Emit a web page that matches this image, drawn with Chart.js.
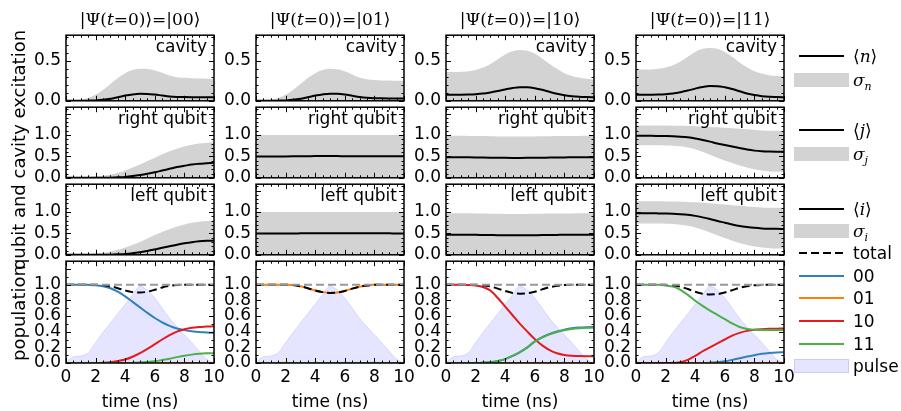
<!DOCTYPE html>
<html>
<head>
<meta charset="utf-8">
<script src="https://cdn.jsdelivr.net/npm/chart.js@4.4.0/dist/chart.umd.min.js"></script>
<style>
body { margin: 0; background: #fff; width: 901px; height: 411px; overflow: hidden; position: relative; font-family: 'DejaVu Sans', sans-serif; }
canvas { position: absolute; }
.txt { position: absolute; white-space: nowrap; font-size: 17px; line-height: 20px; color: #000; }
.math { font-family: 'DejaVu Serif', serif; }
.ylab { position: absolute; white-space: nowrap; font-size: 17px; line-height: 20px; text-align: center; transform: rotate(-90deg); }
.sw { position: absolute; }
</style>
</head>
<body>
<script>
// time axis (ns)
const time = [0, 0.5, 1, 1.5, 2, 2.5, 3, 3.5, 4, 4.5, 5, 5.5, 6, 6.5, 7, 7.5, 8, 8.5, 9, 9.5, 10];
const zeros = [0, 0, 0, 0, 0, 0, 0, 0, 0, 0, 0, 0, 0, 0, 0, 0, 0, 0, 0, 0, 0];
const unity = [1, 1, 1, 1, 1, 1, 1, 1, 1, 1, 1, 1, 1, 1, 1, 1, 1, 1, 1, 1, 1];
const pulse = [0, 0.08, 0.09, 0.13, 0.26, 0.39, 0.51, 0.63, 0.75, 0.87, 0.98, 0.93, 0.83, 0.7, 0.57, 0.46, 0.36, 0.26, 0.15, 0.05, 0];

const xTicks = [0, 2, 4, 6, 8, 10];
const yTicksCav = [0, 0.5];
const yTicksQubit = [0, 0.5, 1.0];
const yTicksPop = [0, 0.2, 0.4, 0.6, 0.8, 1.0];

const titles = ['00', '01', '10', '11'];
const rowNames = ['cavity', 'right qubit', 'left qubit'];

// cavity <n> and <n>+sigma
const cav00 = [0, 0, 0, 0.002, 0.005, 0.012, 0.025, 0.045, 0.065, 0.08, 0.087, 0.086, 0.078, 0.066, 0.055, 0.049, 0.046, 0.045, 0.045, 0.045, 0.045];
const cav00Hi = [0, 0.003, 0.012, 0.035, 0.075, 0.135, 0.21, 0.285, 0.345, 0.385, 0.4, 0.398, 0.38, 0.35, 0.315, 0.295, 0.287, 0.283, 0.28, 0.277, 0.275];
const cav01 = [0, 0, 0, 0.002, 0.005, 0.012, 0.025, 0.045, 0.065, 0.08, 0.088, 0.087, 0.078, 0.063, 0.048, 0.038, 0.033, 0.031, 0.03, 0.03, 0.03];
const cav01Hi = [0, 0.003, 0.012, 0.035, 0.075, 0.135, 0.21, 0.285, 0.345, 0.385, 0.4, 0.393, 0.37, 0.33, 0.29, 0.27, 0.26, 0.255, 0.253, 0.25, 0.25];
const cav10 = [0.075, 0.075, 0.076, 0.078, 0.082, 0.09, 0.104, 0.122, 0.142, 0.16, 0.17, 0.169, 0.158, 0.138, 0.112, 0.088, 0.07, 0.058, 0.05, 0.046, 0.043];
const cav10Hi = [0.36, 0.36, 0.362, 0.37, 0.385, 0.415, 0.46, 0.52, 0.58, 0.62, 0.635, 0.625, 0.59, 0.53, 0.46, 0.4, 0.345, 0.31, 0.29, 0.275, 0.265];
const cav11 = [0.075, 0.075, 0.076, 0.078, 0.083, 0.092, 0.108, 0.128, 0.152, 0.172, 0.184, 0.183, 0.17, 0.148, 0.12, 0.092, 0.072, 0.058, 0.05, 0.047, 0.045];
const cav11Hi = [0.39, 0.39, 0.392, 0.4, 0.415, 0.445, 0.49, 0.55, 0.61, 0.65, 0.66, 0.65, 0.61, 0.55, 0.48, 0.42, 0.37, 0.34, 0.32, 0.31, 0.305];

// right qubit <j> and band
const rq00 = [0, 0, 0, 0, 0, 0, 0.003, 0.01, 0.02, 0.04, 0.065, 0.095, 0.13, 0.17, 0.21, 0.25, 0.28, 0.31, 0.33, 0.34, 0.35];
const rq00Hi = [0, 0, 0.005, 0.015, 0.03, 0.05, 0.08, 0.12, 0.17, 0.24, 0.31, 0.39, 0.47, 0.55, 0.62, 0.68, 0.73, 0.77, 0.8, 0.815, 0.83];
const rq01 = [0.5, 0.5, 0.5, 0.5, 0.5, 0.501, 0.503, 0.505, 0.507, 0.508, 0.508, 0.507, 0.506, 0.505, 0.504, 0.503, 0.502, 0.502, 0.501, 0.501, 0.501];
const rq10 = [0.48, 0.48, 0.48, 0.479, 0.477, 0.474, 0.471, 0.468, 0.466, 0.465, 0.465, 0.466, 0.468, 0.47, 0.473, 0.475, 0.477, 0.478, 0.479, 0.48, 0.48];
const rq10Hi = [0.98, 0.98, 0.98, 0.979, 0.977, 0.974, 0.971, 0.968, 0.966, 0.965, 0.965, 0.966, 0.968, 0.97, 0.973, 0.975, 0.977, 0.978, 0.979, 0.98, 0.98];
const rq11 = [0.98, 0.98, 0.98, 0.978, 0.975, 0.97, 0.96, 0.945, 0.92, 0.885, 0.845, 0.8, 0.765, 0.73, 0.695, 0.66, 0.635, 0.62, 0.612, 0.608, 0.606];
const rq11Hi = [1.22, 1.22, 1.22, 1.22, 1.22, 1.218, 1.215, 1.21, 1.205, 1.198, 1.19, 1.18, 1.17, 1.16, 1.148, 1.135, 1.12, 1.108, 1.1, 1.097, 1.095];
const rq11Lo = [0.76, 0.76, 0.76, 0.758, 0.755, 0.75, 0.735, 0.71, 0.67, 0.61, 0.54, 0.47, 0.405, 0.345, 0.29, 0.24, 0.2, 0.17, 0.15, 0.14, 0.135];

// left qubit <i> and band
const lq00 = [0, 0, 0, 0, 0, 0, 0.003, 0.01, 0.02, 0.038, 0.062, 0.09, 0.125, 0.163, 0.2, 0.237, 0.268, 0.295, 0.315, 0.327, 0.333];
const lq00Hi = [0, 0, 0.005, 0.015, 0.03, 0.05, 0.08, 0.12, 0.17, 0.235, 0.3, 0.38, 0.46, 0.535, 0.6, 0.66, 0.71, 0.75, 0.775, 0.79, 0.8];
const lq01 = [0.5, 0.5, 0.5, 0.5, 0.5, 0.5, 0.501, 0.502, 0.503, 0.504, 0.504, 0.504, 0.503, 0.503, 0.502, 0.502, 0.501, 0.501, 0.501, 0.5, 0.5];
const lq10 = [0.47, 0.47, 0.47, 0.469, 0.467, 0.464, 0.461, 0.458, 0.456, 0.455, 0.455, 0.456, 0.458, 0.46, 0.463, 0.465, 0.467, 0.468, 0.469, 0.47, 0.47];
const lq10Hi = [0.97, 0.97, 0.97, 0.969, 0.967, 0.964, 0.961, 0.958, 0.956, 0.955, 0.955, 0.956, 0.958, 0.96, 0.963, 0.965, 0.967, 0.968, 0.969, 0.97, 0.97];
const lq11 = [0.97, 0.97, 0.97, 0.968, 0.965, 0.96, 0.95, 0.935, 0.91, 0.875, 0.835, 0.79, 0.75, 0.71, 0.675, 0.65, 0.63, 0.617, 0.61, 0.607, 0.605];
const lq11Hi = [1.25, 1.25, 1.25, 1.25, 1.248, 1.245, 1.24, 1.235, 1.228, 1.218, 1.205, 1.19, 1.175, 1.16, 1.145, 1.13, 1.115, 1.105, 1.1, 1.097, 1.095];
const lq11Lo = [0.73, 0.73, 0.73, 0.73, 0.725, 0.72, 0.705, 0.68, 0.64, 0.585, 0.52, 0.455, 0.39, 0.33, 0.275, 0.23, 0.195, 0.17, 0.155, 0.145, 0.14];

// populations, initial state |00>
const p00blue = [1, 1, 1, 0.998, 0.993, 0.98, 0.955, 0.91, 0.85, 0.78, 0.71, 0.64, 0.575, 0.52, 0.475, 0.44, 0.42, 0.405, 0.395, 0.39, 0.385];
const p00red = [0, 0, 0, 0, 0, 0.003, 0.01, 0.025, 0.045, 0.08, 0.125, 0.18, 0.24, 0.3, 0.355, 0.4, 0.43, 0.45, 0.46, 0.465, 0.47];
const p00green = [0, 0, 0, 0, 0, 0, 0, 0, 0, 0.002, 0.005, 0.012, 0.022, 0.038, 0.055, 0.075, 0.093, 0.107, 0.117, 0.123, 0.125];
const p00total = [1, 1, 1, 1, 0.999, 0.995, 0.98, 0.955, 0.925, 0.905, 0.9, 0.91, 0.935, 0.965, 0.985, 0.995, 1, 1, 1, 1, 1];
// |01>
const p01orange = [1, 1, 1, 1, 0.999, 0.995, 0.98, 0.955, 0.925, 0.905, 0.895, 0.9, 0.92, 0.95, 0.975, 0.99, 0.998, 1, 1, 1, 1];
const p01total = [1, 1, 1, 1, 0.999, 0.995, 0.98, 0.955, 0.925, 0.905, 0.895, 0.9, 0.92, 0.95, 0.975, 0.99, 0.998, 1, 1, 1, 1];
// |10>
const p10blue = [0, 0, 0, 0, 0, 0.003, 0.01, 0.025, 0.05, 0.09, 0.14, 0.2, 0.277, 0.33, 0.372, 0.403, 0.426, 0.443, 0.453, 0.458, 0.46];
const p10red = [1, 1, 1, 0.997, 0.99, 0.97, 0.925, 0.83, 0.72, 0.61, 0.5, 0.4, 0.305, 0.225, 0.165, 0.125, 0.103, 0.092, 0.088, 0.086, 0.085];
const p10green = [0, 0, 0, 0, 0, 0.003, 0.01, 0.025, 0.05, 0.09, 0.14, 0.2, 0.275, 0.325, 0.365, 0.395, 0.418, 0.435, 0.445, 0.45, 0.452];
const p10total = [1, 1, 1, 1, 0.998, 0.993, 0.977, 0.95, 0.92, 0.895, 0.885, 0.89, 0.91, 0.94, 0.968, 0.985, 0.995, 1, 1, 1, 1];
// |11>
const p11blue = [0, 0, 0, 0, 0, 0, 0, 0, 0, 0, 0.003, 0.01, 0.022, 0.04, 0.06, 0.082, 0.1, 0.117, 0.128, 0.135, 0.138];
const p11red = [0, 0, 0, 0, 0, 0, 0.01, 0.04, 0.09, 0.15, 0.2, 0.25, 0.3, 0.35, 0.385, 0.41, 0.425, 0.432, 0.436, 0.438, 0.44];
const p11green = [1, 1, 1, 0.998, 0.99, 0.975, 0.935, 0.87, 0.795, 0.73, 0.67, 0.615, 0.56, 0.505, 0.46, 0.435, 0.425, 0.42, 0.42, 0.42, 0.42];
const p11total = [1, 1, 1, 1, 0.998, 0.992, 0.975, 0.945, 0.91, 0.885, 0.875, 0.88, 0.9, 0.93, 0.96, 0.98, 0.993, 0.998, 1, 1, 1];

const C00 = '#3080bd', C01 = '#ff7f0e', C10 = '#e41a1c', C11 = '#4daf4a';
const BAND = '#d3d3d3';
const PULSE_FILL = 'rgba(0,0,255,0.1)', PULSE_EDGE = 'rgba(0,0,255,0.12)';

const colLeft = [66, 256, 446, 636];
const rowTop = [32, 104, 181, 258];
const rowBot = [104, 181, 258, 363];
const yMax = [0.82, 1.65, 1.65, 1.3];
const yMajor = [0.5, 0.5, 0.5, 0.2];

Chart.defaults.font.family = "'DejaVu Sans', sans-serif";
Chart.defaults.font.size = 17;
Chart.defaults.color = '#000';

const pts = arr => time.map((t, i) => ({x: t, y: arr[i]}));

// frame and inward ticks like matplotlib classic
const frameTicks = {
  id: 'frameTicks',
  afterDraw(chart, args, opts) {
    const {ctx, chartArea: a, scales: {x, y}} = chart;
    ctx.save();
    ctx.strokeStyle = '#000';
    ctx.lineWidth = 1;
    ctx.beginPath();
    for (let k = 0; k <= 20; k++) {
      const px = Math.round(x.getPixelForValue(k * 0.5)) + 0.5;
      const len = k % 4 === 0 ? 5 : 2.5;
      ctx.moveTo(px, a.bottom); ctx.lineTo(px, a.bottom - len);
      ctx.moveTo(px, a.top); ctx.lineTo(px, a.top + len);
    }
    const n = Math.floor(y.max / 0.1 + 1e-6);
    const every = Math.round(opts.yMajor / 0.1);
    for (let k = 0; k <= n; k++) {
      const py = Math.round(y.getPixelForValue(k * 0.1)) + 0.5;
      const len = k % every === 0 ? 5 : 2.5;
      ctx.moveTo(a.left, py); ctx.lineTo(a.left + len, py);
      ctx.moveTo(a.right, py); ctx.lineTo(a.right - len, py);
    }
    ctx.stroke();
    ctx.lineWidth = 1.5;
    ctx.strokeRect(a.left, a.top, a.right - a.left, a.bottom - a.top);
    ctx.restore();
  }
};

function band(mean, hi, lo) {
  return [
    {data: pts(mean), borderColor: '#000', borderWidth: 2, order: 0},
    {data: pts(hi), borderWidth: 0, borderColor: 'rgba(0,0,0,0)', backgroundColor: BAND, fill: '+1', order: 1},
    {data: pts(lo), borderWidth: 0, borderColor: 'rgba(0,0,0,0)', order: 2}
  ];
}

function pop(blue, orange, red, green, total) {
  return [
    {data: pts(unity), borderColor: '#999', borderDash: [8, 4], borderWidth: 2, order: 0},
    {data: pts(total), borderColor: '#000', borderDash: [8, 4], borderWidth: 2, order: 1},
    {data: pts(green), borderColor: C11, borderWidth: 2, order: 2},
    {data: pts(red), borderColor: C10, borderWidth: 2, order: 3},
    {data: pts(orange), borderColor: C01, borderWidth: 2, order: 4},
    {data: pts(blue), borderColor: C00, borderWidth: 2, order: 5},
    {data: pts(pulse), borderColor: PULSE_EDGE, borderWidth: 1, backgroundColor: PULSE_FILL, fill: 'origin', order: 6}
  ];
}

function panel(col, row, datasets, yTicks) {
  const L = colLeft[col], T = rowTop[row], H = rowBot[row] - rowTop[row];
  const last = row === 3;
  const cv = document.createElement('canvas');
  cv.width = 50 + 148 + 16;
  cv.height = 12 + H + (last ? 44 : 12);
  cv.style.left = (L - 50) + 'px';
  cv.style.top = (T - 12) + 'px';
  document.body.appendChild(cv);
  new Chart(cv, {
    type: 'line',
    data: {datasets},
    options: {
      responsive: false, animation: false, devicePixelRatio: 1,
      layout: {padding: {left: 0, right: 16, top: 12, bottom: last ? 0 : 12}},
      elements: {point: {radius: 0}, line: {cubicInterpolationMode: 'monotone'}},
      plugins: {legend: {display: false}, tooltip: {enabled: false}, frameTicks: {yMajor: yMajor[row]}},
      scales: {
        x: {
          type: 'linear', min: 0, max: 10, display: last,
          grid: {display: false, drawTicks: false}, border: {display: false},
          afterBuildTicks: s => { s.ticks = xTicks.map(v => ({value: v})); },
          afterFit: s => { s.height = last ? 44 : 0; },
          ticks: {padding: 4, maxRotation: 0, autoSkip: false}
        },
        y: {
          min: 0, max: yMax[row],
          grid: {display: false, drawTicks: false}, border: {display: false},
          afterBuildTicks: s => { s.ticks = yTicks.map(v => ({value: v})); },
          afterFit: s => { s.width = 50; },
          ticks: {padding: 5, autoSkip: false, callback: v => v.toFixed(1)}
        }
      }
    },
    plugins: [frameTicks]
  });
}

panel(0, 0, band(cav00, cav00Hi, zeros), yTicksCav);
panel(1, 0, band(cav01, cav01Hi, zeros), yTicksCav);
panel(2, 0, band(cav10, cav10Hi, zeros), yTicksCav);
panel(3, 0, band(cav11, cav11Hi, zeros), yTicksCav);

panel(0, 1, band(rq00, rq00Hi, zeros), yTicksQubit);
panel(1, 1, band(rq01, unity, zeros), yTicksQubit);
panel(2, 1, band(rq10, rq10Hi, zeros), yTicksQubit);
panel(3, 1, band(rq11, rq11Hi, rq11Lo), yTicksQubit);

panel(0, 2, band(lq00, lq00Hi, zeros), yTicksQubit);
panel(1, 2, band(lq01, unity, zeros), yTicksQubit);
panel(2, 2, band(lq10, lq10Hi, zeros), yTicksQubit);
panel(3, 2, band(lq11, lq11Hi, lq11Lo), yTicksQubit);

panel(0, 3, pop(p00blue, zeros, p00red, p00green, p00total), yTicksPop);
panel(1, 3, pop(zeros, p01orange, zeros, zeros, p01total), yTicksPop);
panel(2, 3, pop(p10blue, zeros, p10red, p10green, p10total), yTicksPop);
panel(3, 3, pop(p11blue, zeros, p11red, p11green, p11total), yTicksPop);

// text overlays
function addText(html, css, cls) {
  const d = document.createElement('div');
  d.className = cls || 'txt';
  d.innerHTML = html;
  Object.assign(d.style, css);
  document.body.appendChild(d);
  return d;
}

titles.forEach((s, c) => {
  addText('|\u03A8(<i>t</i>=0)\u27E9=|' + s + '\u27E9',
    {left: (colLeft[c] - 26) + 'px', width: '200px', top: '9px', textAlign: 'center'}, 'txt math');
  rowNames.forEach((name, r) => {
    addText(name, {left: colLeft[c] + 'px', width: '141px', top: (rowTop[r] + 4) + 'px', textAlign: 'right'});
  });
  addText('time (ns)', {left: (colLeft[c] - 26) + 'px', width: '200px', top: '391px', textAlign: 'center'});
});

addText('qubit and cavity excitation', {left: (19 - 130) + 'px', width: '260px', top: (150 - 10) + 'px', fontSize: '18px'}, 'ylab');
addText('population', {left: (19 - 60) + 'px', width: '120px', top: (313 - 10) + 'px', fontSize: '18px'}, 'ylab');

// legend
function swLine(y, css) {
  const d = document.createElement('div');
  d.className = 'sw';
  Object.assign(d.style, {left: '799px', width: '45px', top: (y - 1) + 'px', height: '2px'}, css);
  document.body.appendChild(d);
}
function swPatch(y, css) {
  const d = document.createElement('div');
  d.className = 'sw';
  Object.assign(d.style, {left: '794px', width: '55px', top: (y - 7) + 'px', height: '14px', boxSizing: 'border-box'}, css);
  document.body.appendChild(d);
}
const legText = (y, html, cls) => addText(html, {left: '853px', top: (y - 10) + 'px'}, cls || 'txt');

swLine(56, {background: '#000'});  legText(56, '\u27E8<i>n</i>\u27E9', 'txt math');
swPatch(80, {background: BAND});    legText(80, '<i>\u03C3</i><sub style="font-size:11px"><i>n</i></sub>', 'txt math');
swLine(130, {background: '#000'}); legText(130, '\u27E8<i>j</i>\u27E9', 'txt math');
swPatch(154, {background: BAND});   legText(154, '<i>\u03C3</i><sub style="font-size:11px"><i>j</i></sub>', 'txt math');
swLine(209, {background: '#000'}); legText(209, '\u27E8<i>i</i>\u27E9', 'txt math');
swPatch(231, {background: BAND});   legText(231, '<i>\u03C3</i><sub style="font-size:11px"><i>i</i></sub>', 'txt math');
swLine(253, {background: 'repeating-linear-gradient(to right, #000 0 8px, transparent 8px 12px)'}); legText(253, 'total');
swLine(276, {background: C00}); legText(276, '00');
swLine(298, {background: C01}); legText(298, '01');
swLine(321, {background: C10}); legText(321, '10');
swLine(344, {background: C11}); legText(344, '11');
swPatch(366, {background: PULSE_FILL, border: '1px solid ' + PULSE_EDGE}); legText(366, 'pulse');
</script>
</body>
</html>
